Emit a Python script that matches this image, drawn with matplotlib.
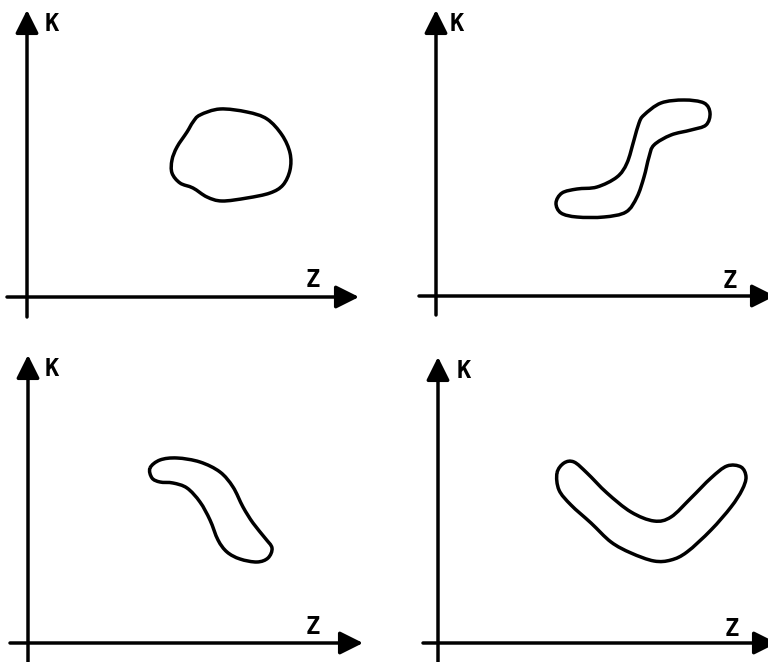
import numpy as np
import matplotlib.pyplot as plt
from matplotlib.path import Path
from matplotlib.patches import PathPatch

# Outlines of the four regions.
# Units: Z across, K up, with the axis crossing at (0, 0).
blob1_z = [17.3, 19.3, 22.0, 24.0, 25.5, 26.3, 26.3, 25.6, 24.3, 22.0,
           19.5, 18.0, 16.6, 15.3, 14.5, 14.5, 15.0, 16.0, 16.6]
blob1_k = [18.2, 18.8, 18.5, 17.8, 16.2, 14.4, 12.7, 11.2, 10.4, 9.9,
           9.6, 10.0, 10.9, 11.4, 12.4, 13.7, 15.0, 16.5, 17.5]

blob2_z = [20.8, 22.5, 24.8, 26.8, 27.4, 27.0, 25.5, 23.5, 21.8, 21.3,
           20.8, 20.1, 19.0, 16.8, 14.1, 12.5, 12.0, 12.6, 14.1, 16.1,
           18.1, 19.1, 19.8, 20.3]
blob2_k = [18.1, 19.3, 19.6, 19.3, 18.3, 17.1, 16.6, 16.1, 15.1, 13.9,
           11.9, 9.9, 8.4, 7.9, 7.9, 8.3, 9.3, 10.3, 10.7, 10.9,
           11.9, 13.3, 15.6, 17.3]

blob3_z = [12.2, 13.2, 14.9, 17.2, 19.2, 20.5, 21.5, 22.5, 23.7, 24.4,
           24.0, 22.9, 21.2, 19.9, 19.0, 18.2, 17.2, 15.9, 14.5, 13.2, 12.4]
blob3_k = [17.5, 18.3, 18.5, 18.1, 17.1, 15.6, 13.6, 12.0, 10.5, 9.5,
           8.5, 8.1, 8.4, 9.1, 10.3, 12.3, 14.1, 15.5, 16.0, 16.1, 16.5]

blob4_z = [11.9, 12.6, 13.6, 14.9, 16.9, 19.3, 21.6, 23.3, 25.3, 27.3,
           28.9, 30.3, 30.8, 30.4, 29.3, 27.3, 24.9, 23.3, 21.6, 19.3,
           17.3, 15.3, 13.3, 12.1]
blob4_k = [17.0, 18.0, 18.1, 17.0, 15.0, 13.1, 12.2, 12.6, 14.5, 16.5,
           17.7, 17.6, 16.6, 15.3, 13.6, 11.3, 9.1, 8.3, 8.2, 9.0,
           10.1, 12.0, 13.8, 15.3]

x_label = 'Z'
y_label = 'K'

blobs = [(blob1_z, blob1_k), (blob2_z, blob2_k),
         (blob3_z, blob3_k), (blob4_z, blob4_k)]

# layout of each panel: axis crossing in panel pixels, axis line extents,
# and label spots
origin_px = [(27, 297), (52, 296), (28, 312), (54, 312)]
z_ext = [(-2.0, 33.2), (-1.7, 33.9), (-1.8, 33.5), (-1.5, 33.9)]
k_ext = [(-2.0, 28.7), (-1.9, 28.6), (-2.5, 28.8), (-2.5, 28.6)]
k_pos = [(2.5, 27.3), (2.1, 27.2), (2.4, 27.4), (2.6, 27.2)]
z_pos = [(28.6, 1.7), (29.4, 1.5), (28.5, 1.6), (29.4, 1.4)]

PX = 10.0   # pixels per unit
PANEL_W, PANEL_H = 384, 331
LABEL_FONT = ['DejaVu Sans Mono', 'DejaVu Sans']


def smooth_loop(z, k):
    '''Closed Bezier path that goes through every outline point.'''
    pts = np.column_stack([z, k])
    n = len(pts)
    verts = [pts[0]]
    codes = [Path.MOVETO]
    for i in range(n):
        p0, p1 = pts[i - 1], pts[i]
        p2, p3 = pts[(i + 1) % n], pts[(i + 2) % n]
        verts += [p1 + (p2 - p0) / 6, p2 - (p3 - p1) / 6, p2]
        codes += [Path.CURVE4] * 3
    return Path(verts, codes)


def draw_arrow(ax, start, tip):
    ax.annotate('', xy=tip, xytext=start, annotation_clip=False,
                arrowprops=dict(arrowstyle='-|>,head_length=1.4,head_width=0.7',
                                mutation_scale=10, color='black', lw=2.5,
                                shrinkA=0, shrinkB=0))


fig, axs = plt.subplots(2, 2, figsize=(7.68, 6.62), dpi=100)
fig.subplots_adjust(left=0, right=1, bottom=0, top=1, wspace=0, hspace=0)

for i, ax in enumerate(axs.flat):
    ox, oy = origin_px[i]
    ax.set_xlim(-ox / PX, (PANEL_W - ox) / PX)
    ax.set_ylim((oy - PANEL_H) / PX, oy / PX)
    ax.axis('off')

    # axes of the sketch
    draw_arrow(ax, (z_ext[i][0], 0), (z_ext[i][1], 0))
    draw_arrow(ax, (0, k_ext[i][0]), (0, k_ext[i][1]))

    ax.text(*k_pos[i], y_label, ha='center', va='center', fontsize=17,
            fontweight='bold', family=LABEL_FONT)
    ax.text(*z_pos[i], x_label, ha='center', va='center', fontsize=17,
            fontweight='bold', family=LABEL_FONT)

    z, k = blobs[i]
    ax.add_patch(PathPatch(smooth_loop(z, k), facecolor='none',
                           edgecolor='black', lw=2.5, joinstyle='round'))

fig.savefig('out.png', dpi=100)
